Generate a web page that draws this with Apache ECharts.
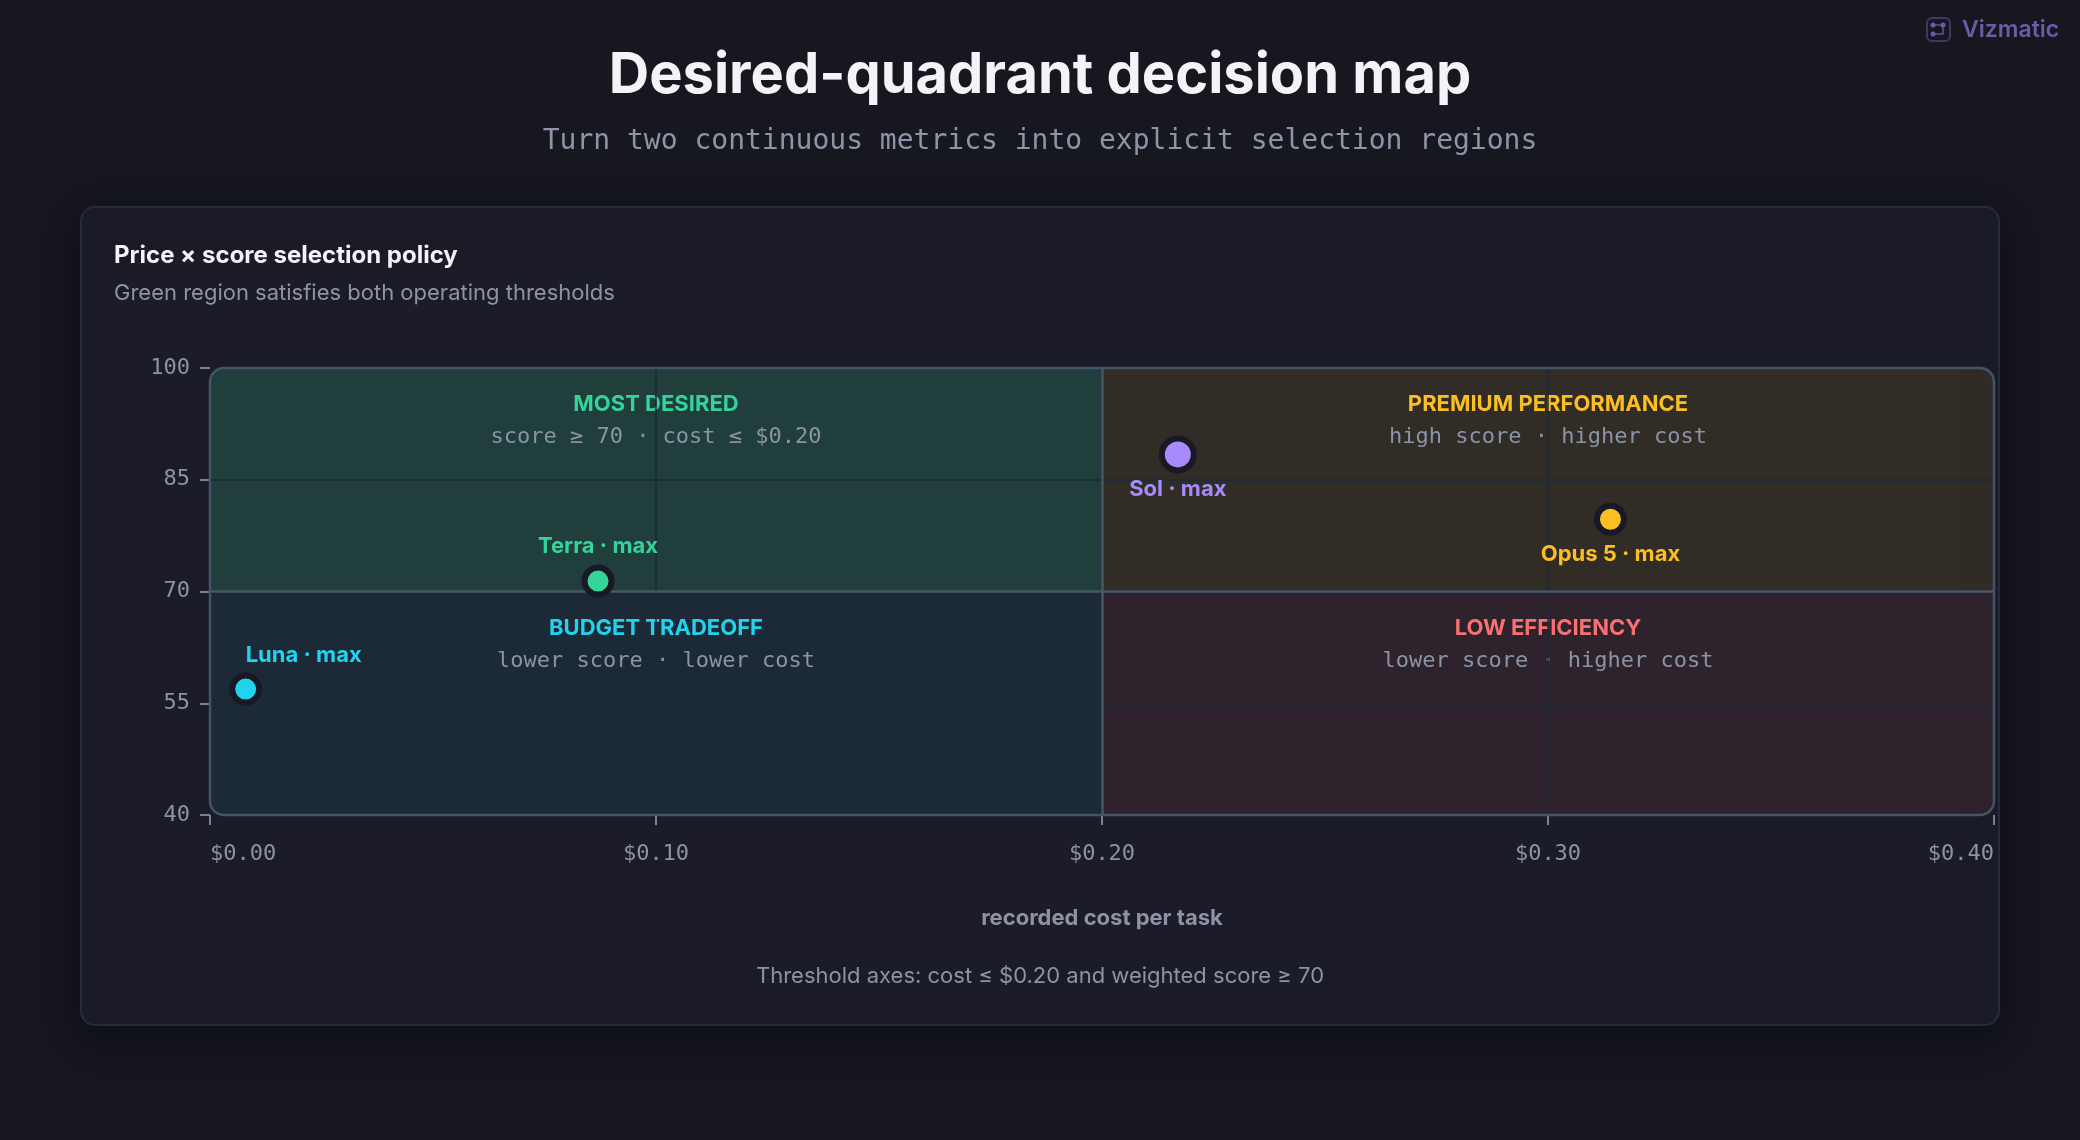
<!DOCTYPE html>
<html>
<head>
<meta charset="utf-8">
<title>Desired-quadrant decision map</title>
<script src="https://cdn.jsdelivr.net/npm/echarts@6/dist/echarts.min.js"></script>
<style>
  html, body { margin: 0; padding: 0; background: #16171f; }
  #chart { width: 2080px; height: 1140px; }
</style>
</head>
<body>
<div id="chart"></div>
<script>
// 数据
const costTicks = [0, 0.1, 0.2, 0.3, 0.4];
const scoreTicks = [40, 55, 70, 85, 100];
const modelNames = ["Luna · max", "Terra · max", "Sol · max", "Opus 5 · max"];
const modelCost = [0.008, 0.087, 0.217, 0.314];
const modelScore = [56.9, 71.4, 88.4, 79.7];
const costThreshold = 0.2;
const scoreThreshold = 70;
const quadrantTitles = ["MOST DESIRED", "PREMIUM PERFORMANCE", "BUDGET TRADEOFF", "LOW EFFICIENCY"];
const quadrantNotes = [
  "score ≥ 70 · cost ≤ $0.20",
  "high score · higher cost",
  "lower score · lower cost",
  "lower score · higher cost"
];

// 样式
const SANS = "Inter, 'Noto Sans', sans-serif";
const MONO = "'DejaVu Sans Mono', monospace";
const MUTED = "#8b93a5";
const quadrantStyle = [
  { color: "#34d399", fill: "rgba(52,211,153,0.19)", r: [14, 0, 0, 0] },
  { color: "#fbbf24", fill: "rgba(251,191,36,0.10)", r: [0, 14, 0, 0] },
  { color: "#22d3ee", fill: "rgba(34,211,238,0.08)", r: [0, 0, 0, 14] },
  { color: "#f87171", fill: "rgba(248,113,113,0.09)", r: [0, 0, 14, 0] }
];
const pointStyle = {
  "Luna · max": { color: "#22d3ee", size: 27, position: "top", align: "left", distance: 6 },
  "Terra · max": { color: "#34d399", size: 27, position: "top", align: "center", distance: 7 },
  "Sol · max": { color: "#a78bfa", size: 32, position: "bottom", align: "center", distance: 5 },
  "Opus 5 · max": { color: "#fbbf24", size: 27, position: "bottom", align: "center", distance: 8 }
};

const xMin = costTicks[0], xMax = costTicks[costTicks.length - 1];
const yMin = scoreTicks[0], yMax = scoreTicks[scoreTicks.length - 1];
// 象限范围 [x0, x1, y0, y1]
const quadrantBounds = [
  [xMin, costThreshold, scoreThreshold, yMax],
  [costThreshold, xMax, scoreThreshold, yMax],
  [xMin, costThreshold, yMin, scoreThreshold],
  [costThreshold, xMax, yMin, scoreThreshold]
];

function renderQuadrant(params, api) {
  const i = params.dataIndex;
  const q = quadrantStyle[i];
  const tl = api.coord([api.value(0), api.value(3)]);
  const br = api.coord([api.value(1), api.value(2)]);
  const cx = (tl[0] + br[0]) / 2;
  return {
    type: "group",
    children: [
      {
        type: "rect",
        shape: { x: tl[0], y: tl[1], width: br[0] - tl[0], height: br[1] - tl[1], r: q.r },
        style: { fill: q.fill }
      },
      {
        type: "text",
        x: cx,
        y: tl[1] + 36.5,
        style: {
          text: quadrantTitles[i], fill: q.color, fontFamily: SANS, fontSize: 22,
          fontWeight: "bold", align: "center", verticalAlign: "middle"
        }
      },
      {
        type: "text",
        x: cx,
        y: tl[1] + 69.5,
        style: {
          text: quadrantNotes[i], fill: MUTED, fontFamily: MONO, fontSize: 22,
          align: "center", verticalAlign: "middle"
        }
      }
    ]
  };
}

function renderFrame(params, api) {
  const tl = api.coord([api.value(0), api.value(3)]);
  const br = api.coord([api.value(1), api.value(2)]);
  return {
    type: "rect",
    shape: { x: tl[0], y: tl[1], width: br[0] - tl[0], height: br[1] - tl[1], r: 14 },
    style: { fill: "none", stroke: "#465366", lineWidth: 2.5 }
  };
}

const chart = echarts.init(document.getElementById("chart"), null, { renderer: "canvas" });

const option = {
  backgroundColor: "#16171f",
  animation: false,
  graphic: [
    {
      type: "rect", z: -100,
      shape: { x: 81, y: 207, width: 1918, height: 818, r: 14 },
      style: {
        fill: "#1b1c27", stroke: "#262b39", lineWidth: 2,
        shadowBlur: 40, shadowOffsetY: 12, shadowColor: "rgba(0,0,0,0.35)"
      }
    },
    {
      type: "text", x: 1040, y: 76,
      style: { text: "Desired-quadrant decision map", fill: "#f3f4f8", fontFamily: SANS,
        fontSize: 56, fontWeight: "bold", align: "center", verticalAlign: "middle" }
    },
    {
      type: "text", x: 1040, y: 142,
      style: { text: "Turn two continuous metrics into explicit selection regions", fill: "#8b95a8",
        fontFamily: MONO, fontSize: 28, align: "center", verticalAlign: "middle" }
    },
    {
      type: "text", x: 114, y: 256,
      style: { text: "Price × score selection policy", fill: "#f3f4f8", fontFamily: SANS,
        fontSize: 24, fontWeight: "bold", align: "left", verticalAlign: "middle" }
    },
    {
      type: "text", x: 114, y: 293,
      style: { text: "Green region satisfies both operating thresholds", fill: "#8c95a6",
        fontFamily: SANS, fontSize: 22, align: "left", verticalAlign: "middle" }
    },
    {
      type: "text", x: 1040, y: 976,
      style: { text: "Threshold axes: cost ≤ $0.20 and weighted score ≥ 70", fill: MUTED,
        fontFamily: SANS, fontSize: 22, align: "center", verticalAlign: "middle" }
    },
    // 水印
    {
      type: "rect", shape: { x: 1927, y: 18, width: 23, height: 23, r: 5 },
      style: { fill: "none", stroke: "#3f3768", lineWidth: 2 }
    },
    {
      type: "polyline", shape: { points: [[1933, 25], [1943, 25], [1943, 34], [1933, 34]] },
      style: { fill: "none", stroke: "#5d4f98", lineWidth: 1.6 }
    },
    { type: "circle", shape: { cx: 1933, cy: 25, r: 2.5 }, style: { fill: "#6b5ca8" } },
    { type: "circle", shape: { cx: 1943, cy: 25, r: 2.5 }, style: { fill: "#6b5ca8" } },
    { type: "circle", shape: { cx: 1933, cy: 34, r: 2.5 }, style: { fill: "#6b5ca8" } },
    {
      type: "text", x: 1962, y: 30,
      style: { text: "Vizmatic", fill: "#6b5ca8", fontFamily: SANS, fontSize: 23,
        fontWeight: 600, align: "left", verticalAlign: "middle" }
    }
  ],
  grid: { left: 210, right: 86, top: 368, bottom: 325 },
  xAxis: {
    type: "value",
    min: xMin,
    max: xMax,
    interval: costTicks[1] - costTicks[0],
    z: 1,
    name: "recorded cost per task",
    nameLocation: "middle",
    nameGap: 92,
    nameTextStyle: { color: MUTED, fontFamily: SANS, fontSize: 22, fontWeight: "bold" },
    axisLine: { show: false },
    axisTick: { show: true, length: 10, lineStyle: { color: "#9aa3b2", width: 1.5 } },
    axisLabel: {
      color: MUTED, fontFamily: MONO, fontSize: 22, margin: 28,
      alignMinLabel: "left", alignMaxLabel: "right",
      formatter: (v) => "$" + v.toFixed(2)
    },
    splitLine: { show: true, showMinLine: false, showMaxLine: false, lineStyle: { color: "#1d2838", width: 1.5 } }
  },
  yAxis: {
    type: "value",
    min: yMin,
    max: yMax,
    interval: scoreTicks[1] - scoreTicks[0],
    z: 1,
    axisLine: { show: false },
    axisTick: { show: true, length: 10, lineStyle: { color: "#9aa3b2", width: 1.5 } },
    axisLabel: { color: MUTED, fontFamily: MONO, fontSize: 22, margin: 20 },
    splitLine: { show: true, showMinLine: false, showMaxLine: false, lineStyle: { color: "#1d2838", width: 1.5 } }
  },
  series: [
    {
      type: "custom",
      name: "quadrants",
      z: 0,
      silent: true,
      renderItem: renderQuadrant,
      encode: { x: [0, 1], y: [2, 3] },
      data: quadrantBounds
    },
    {
      type: "custom",
      name: "frame",
      z: 2,
      silent: true,
      renderItem: renderFrame,
      encode: { x: [0, 1], y: [2, 3] },
      data: [[xMin, xMax, yMin, yMax]]
    },
    {
      type: "scatter",
      name: "models",
      z: 5,
      data: modelNames.map((n, i) => {
        const s = pointStyle[n];
        return {
          name: n,
          value: [modelCost[i], modelScore[i]],
          symbolSize: s.size,
          itemStyle: { color: s.color, borderColor: "#181924", borderWidth: 6, opacity: 1 },
          label: {
            show: true, position: s.position, align: s.align, distance: s.distance,
            formatter: "{b}", color: s.color, fontFamily: SANS, fontSize: 22, fontWeight: "bold"
          }
        };
      }),
      markLine: {
        silent: true,
        symbol: "none",
        label: { show: false },
        lineStyle: { color: "#4a5568", width: 2.5, type: "solid", opacity: 1 },
        data: [{ xAxis: costThreshold }, { yAxis: scoreThreshold }]
      }
    }
  ]
};

chart.setOption(option);
</script>
</body>
</html>
